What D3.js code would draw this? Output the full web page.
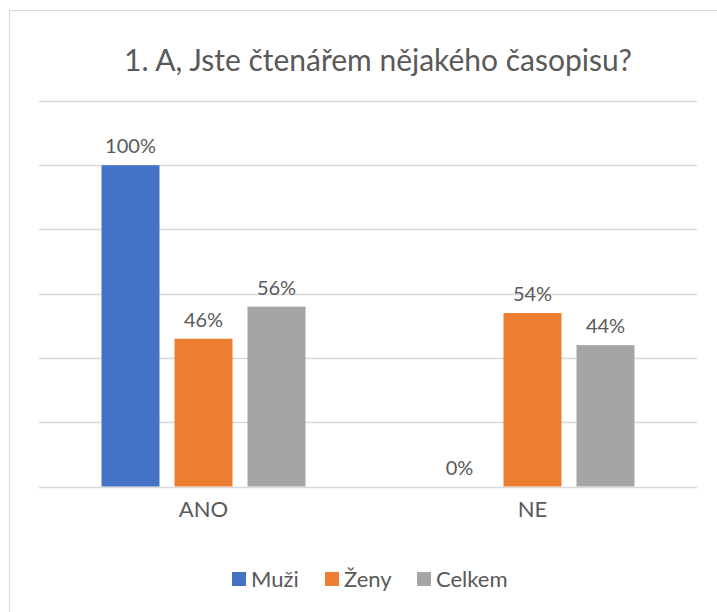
<!DOCTYPE html>
<html>
<head>
<meta charset="utf-8">
<script src="https://cdn.jsdelivr.net/npm/d3@7"></script>
<style>
  body { margin: 0; background: #fff; }
  text { font-family: Lato, "Open Sans", sans-serif; fill: #595959; }
</style>
</head>
<body>
<div class="chart"></div>
<script>
const categories = ["ANO", "NE"];
const series = ["Muži", "Ženy", "Celkem"];
const muzi = [1.00, 0.00];
const zeny = [0.46, 0.54];
const celkem = [0.56, 0.44];
const yTicks = [0, 0.2, 0.4, 0.6, 0.8, 1.0, 1.2];
const colors = ["#4472C4", "#ED7D31", "#A5A5A5"];

const values = [muzi, zeny, celkem];

const W = 717, H = 612;
const margin = ({ top: 101, right: 20, bottom: 125, left: 39 });

const svg = d3.select(".chart")
    .append("svg")
    .attr("width", W)
    .attr("height", H);

// chart frame
svg.append("rect")
    .attr("x", 9.5).attr("y", 10.5)
    .attr("width", 760).attr("height", 640)
    .attr("fill", "none")
    .attr("stroke", "#D9D9D9")
    .attr("stroke-width", 1);

svg.append("text")
    .attr("x", 378)
    .attr("y", 71)
    .attr("text-anchor", "middle")
    .attr("font-size", "30px")
    .text("1. A, Jste čtenářem nějakého časopisu?");

const x0 = d3.scaleBand()
    .domain(categories)
    .range([margin.left, 697]);

const x1 = d3.scaleBand()
    .domain(series)
    .range([62.5, 266.5])
    .paddingInner(15 / 73);

const y = d3.scaleLinear()
    .domain([0, 1.2])
    .range([486.5, margin.top]);

svg.append("g")
    .selectAll("line")
    .data(yTicks)
    .enter()
    .append("line")
    .attr("x1", margin.left)
    .attr("x2", 697)
    .attr("y1", d => Math.round(y(d)) + 0.5)
    .attr("y2", d => Math.round(y(d)) + 0.5)
    .attr("stroke", "#D9D9D9")
    .attr("stroke-width", 1.5);

/*bars per category*/
const groups = svg.selectAll(".grp")
    .data(categories)
    .enter()
    .append("g")
    .attr("class", "grp")
    .attr("transform", d => `translate(${x0(d)},0)`);

groups.selectAll("rect")
    .data((c, ci) => series.map((s, si) => ({ s, si, v: values[si][ci] })))
    .enter()
    .append("rect")
    .attr("x", d => x1(d.s))
    .attr("y", d => y(d.v))
    .attr("width", x1.bandwidth())
    .attr("height", d => y(0) - y(d.v))
    .attr("fill", d => colors[d.si]);

groups.selectAll(".lbl")
    .data((c, ci) => series.map((s, si) => ({ s, si, v: values[si][ci] })))
    .enter()
    .append("text")
    .attr("class", "lbl")
    .attr("x", d => x1(d.s) + x1.bandwidth() / 2)
    .attr("y", d => y(d.v) - 12)
    .attr("text-anchor", "middle")
    .attr("font-size", "20px")
    .text(d => Math.round(d.v * 100) + "%");

// category axis labels
svg.selectAll(".cat")
    .data(categories)
    .enter()
    .append("text")
    .attr("class", "cat")
    .attr("x", d => x0(d) + x0.bandwidth() / 2)
    .attr("y", 517)
    .attr("text-anchor", "middle")
    .attr("font-size", "22px")
    .text(d => d);

// legend
const legendX = [232, 325, 417];
const legend = svg.selectAll(".leg")
    .data(series)
    .enter()
    .append("g")
    .attr("class", "leg")
    .attr("transform", (d, i) => `translate(${legendX[i]},572)`);

legend.append("rect")
    .attr("width", 14).attr("height", 14)
    .attr("fill", (d, i) => colors[i]);

legend.append("text")
    .attr("x", 19)
    .attr("y", 15)
    .attr("font-size", "22px")
    .text(d => d);
</script>
</body>
</html>
